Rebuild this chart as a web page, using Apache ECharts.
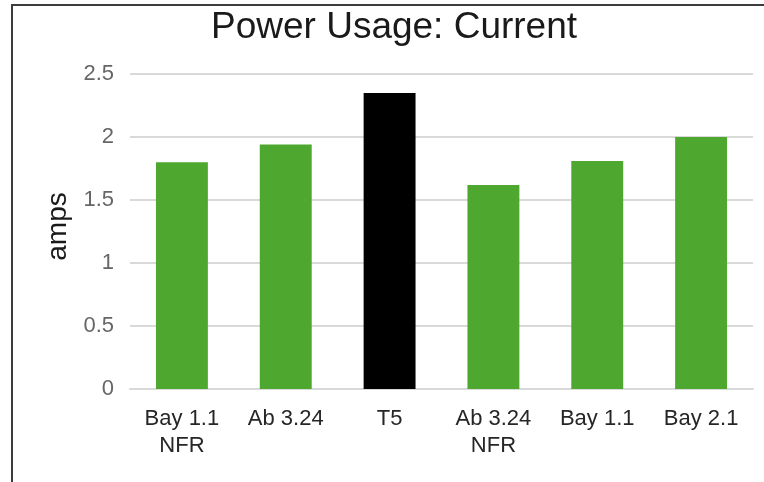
<!DOCTYPE html>
<html>
<head>
<meta charset="utf-8">
<script src="https://cdn.jsdelivr.net/npm/echarts@6/dist/echarts.min.js"></script>
<style>
    html, body { margin: 0; padding: 0; background: #fff; overflow: hidden; }
    #chart { width: 764px; height: 482px; }
    #frame {
        position: absolute; left: 11px; top: 4px; width: 800px; height: 520px;
        border-left: 2px solid #3c3c3c; border-top: 2px solid #3c3c3c;
        pointer-events: none;
    }
</style>
</head>
<body>
<div id="chart"></div>
<div id="frame"></div>
<script>
const categories = ['Bay 1.1\nNFR', 'Ab 3.24', 'T5', 'Ab 3.24\nNFR', 'Bay 1.1', 'Bay 2.1'];
const amps = [1.8, 1.94, 2.35, 1.62, 1.81, 2.0];
const barColors = ['#4ea72e', '#4ea72e', '#000000', '#4ea72e', '#4ea72e', '#4ea72e'];
const yTicks = { min: 0, max: 2.5, interval: 0.5 };

const chart = echarts.init(document.getElementById('chart'));

const option = {
    animation: false,
    title: {
        text: 'Power Usage: Current',
        left: 211,
        top: 9,
        padding: 0,
        textStyle: {
            fontFamily: 'Liberation Sans',
            fontSize: 37,
            fontWeight: 'normal',
            color: '#1a1a1a',
        },
    },
    grid: {
        left: 130,
        right: 11,
        top: 74,
        bottom: 93,
    },
    xAxis: {
        type: 'category',
        data: categories,
        axisLine: { lineStyle: { color: '#d9d9d9', width: 2 } },
        axisTick: { show: false },
        axisLabel: {
            margin: 16,
            interval: 0,
            fontFamily: 'Liberation Sans',
            fontSize: 22,
            lineHeight: 27,
            color: '#262626',
        },
    },
    yAxis: {
        type: 'value',
        min: yTicks.min,
        max: yTicks.max,
        interval: yTicks.interval,
        name: 'amps',
        nameLocation: 'middle',
        nameRotate: 90,
        nameGap: 51,
        nameTextStyle: {
            fontFamily: 'Liberation Sans',
            fontSize: 28,
            color: '#1a1a1a',
            padding: [0, 0, 0, 10],
        },
        axisLine: { show: false },
        axisTick: { show: false },
        axisLabel: {
            margin: 16,
            fontFamily: 'Liberation Sans',
            fontSize: 22,
            color: '#666666',
        },
        splitLine: { lineStyle: { color: '#d9d9d9', width: 2 } },
    },
    series: [
        {
            type: 'bar',
            barWidth: '50%',
            data: amps.map((v, i) => ({ value: v, itemStyle: { color: barColors[i] } })),
        },
    ],
};
chart.setOption(option);
</script>
</body>
</html>
